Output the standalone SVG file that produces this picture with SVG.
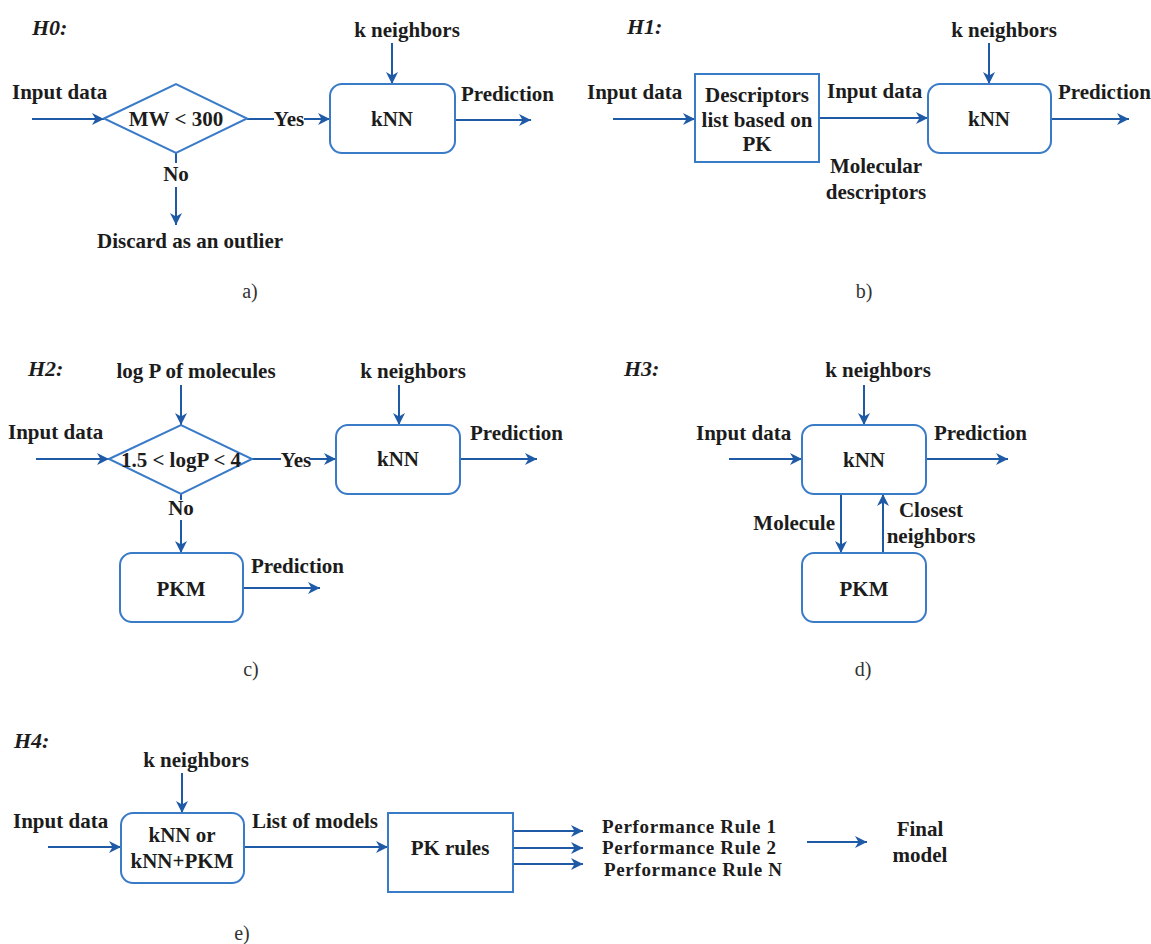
<svg xmlns="http://www.w3.org/2000/svg" width="1151" height="944" viewBox="0 0 1151 944">
<style>
text{font-family:"Liberation Serif","Times New Roman",serif;fill:#1c1c1c}
.t{font-size:21px;font-weight:bold}
.pr{font-size:19px;font-weight:bold}
.m{text-anchor:middle}
.h{font-size:22px;font-weight:bold;font-style:italic}
.cap{font-size:20px;text-anchor:middle;fill:#333}
.box{fill:#fff;stroke:#3a7bc8;stroke-width:2}
.ln{fill:none;stroke:#1f5aa6;stroke-width:2}
.ar{fill:none;stroke:#1f5aa6;stroke-width:2;marker-end:url(#ah)}
</style>
<defs>
<marker id="ah" markerUnits="userSpaceOnUse" markerWidth="13" markerHeight="12" refX="12" refY="6" orient="auto">
<path d="M0,0 L12,6 L0,12 L3.5,6 z" fill="#1f5aa6"/>
</marker>
</defs>
<rect width="1151" height="944" fill="#fff"/>

<g id="connectors">
<!-- H0 -->
<line class="ar" x1="392" y1="43" x2="392" y2="84"/>
<line class="ar" x1="32" y1="119" x2="104" y2="119"/>
<line class="ln" x1="247" y1="119" x2="274" y2="119"/>
<line class="ar" x1="304" y1="119" x2="330" y2="119"/>
<line class="ar" x1="455" y1="120" x2="531" y2="120"/>
<line class="ln" x1="176" y1="153" x2="176" y2="163"/>
<line class="ar" x1="176" y1="187" x2="176" y2="225"/>
<!-- H1 -->
<line class="ar" x1="613" y1="119" x2="695" y2="119"/>
<line class="ar" x1="819" y1="118" x2="928" y2="118"/>
<line class="ar" x1="989" y1="43" x2="989" y2="84"/>
<line class="ar" x1="1051" y1="119" x2="1129" y2="119"/>
<!-- H2 -->
<line class="ar" x1="181" y1="385" x2="181" y2="425"/>
<line class="ar" x1="36" y1="459" x2="109" y2="459"/>
<line class="ln" x1="252" y1="459" x2="281" y2="459"/>
<line class="ar" x1="310" y1="459" x2="336" y2="459"/>
<line class="ar" x1="399" y1="385" x2="399" y2="425"/>
<line class="ar" x1="460" y1="459" x2="537" y2="459"/>
<line class="ln" x1="181" y1="494" x2="181" y2="500"/>
<line class="ar" x1="181" y1="520" x2="181" y2="553"/>
<line class="ar" x1="243" y1="588" x2="320" y2="588"/>
<!-- H3 -->
<line class="ar" x1="864" y1="385" x2="864" y2="425"/>
<line class="ar" x1="729" y1="459" x2="802" y2="459"/>
<line class="ar" x1="926" y1="459" x2="1008" y2="459"/>
<line class="ar" x1="841" y1="494" x2="841" y2="553"/>
<line class="ar" x1="883" y1="553" x2="883" y2="494"/>
<!-- H4 -->
<line class="ar" x1="182" y1="773" x2="182" y2="813"/>
<line class="ar" x1="48" y1="847" x2="121" y2="847"/>
<line class="ar" x1="244" y1="847" x2="388" y2="847"/>
<line class="ar" x1="513" y1="831" x2="583" y2="831"/>
<line class="ar" x1="513" y1="848" x2="583" y2="848"/>
<line class="ar" x1="513" y1="864" x2="583" y2="864"/>
<line class="ar" x1="807" y1="842" x2="867" y2="842"/>
</g>

<!-- Panel H0 -->
<g id="h0-title"><text class="h" x="32" y="35">H0:</text></g>
<g id="h0-decision">
<polygon class="box" points="104,118.5 176,84 247,118.5 176,153"/>
<text class="t m" x="176" y="126">MW &lt; 300</text>
</g>
<g id="h0-knn">
<rect class="box" x="330" y="84" width="125" height="69" rx="12"/>
<text class="t m" x="392" y="126">kNN</text>
</g>
<g id="h0-labels">
<text class="t m" x="407" y="37">k neighbors</text>
<text class="t" x="12" y="99">Input data</text>
<text class="t m" x="289" y="126">Yes</text>
<text class="t" x="461" y="101">Prediction</text>
<text class="t m" x="176" y="181">No</text>
<text class="t" x="97" y="248">Discard as an outlier</text>
<text class="cap" x="250" y="298">a)</text>
</g>

<!-- Panel H1 -->
<g id="h1-title"><text class="h" x="627" y="34">H1:</text></g>
<g id="h1-descriptors">
<rect class="box" x="695" y="74" width="124" height="88"/>
<text class="t m" x="757" y="102">Descriptors</text>
<text class="t m" x="757" y="127">list based on</text>
<text class="t m" x="757" y="151">PK</text>
</g>
<g id="h1-knn">
<rect class="box" x="928" y="84" width="123" height="69" rx="12"/>
<text class="t m" x="989" y="126">kNN</text>
</g>
<g id="h1-labels">
<text class="t" x="587" y="99">Input data</text>
<text class="t" x="827" y="98">Input data</text>
<text class="t m" x="1004" y="37">k neighbors</text>
<text class="t" x="1058" y="99">Prediction</text>
<text class="t m" x="876" y="173">Molecular</text>
<text class="t m" x="876" y="199">descriptors</text>
<text class="cap" x="864" y="298">b)</text>
</g>

<!-- Panel H2 -->
<g id="h2-title"><text class="h" x="28" y="376">H2:</text></g>
<g id="h2-decision">
<polygon class="box" points="109,459 181,425 252,459 181,494"/>
<text class="t m" x="181" y="467">1.5 &lt; logP &lt; 4</text>
</g>
<g id="h2-knn">
<rect class="box" x="336" y="425" width="124" height="69" rx="12"/>
<text class="t m" x="398" y="466">kNN</text>
</g>
<g id="h2-pkm">
<rect class="box" x="120" y="553" width="123" height="69" rx="12"/>
<text class="t m" x="181" y="596">PKM</text>
</g>
<g id="h2-labels">
<text class="t m" x="196" y="378">log P of molecules</text>
<text class="t m" x="413" y="378">k neighbors</text>
<text class="t" x="8" y="439">Input data</text>
<text class="t m" x="296" y="467">Yes</text>
<text class="t" x="470" y="440">Prediction</text>
<text class="t m" x="181" y="515">No</text>
<text class="t" x="251" y="573">Prediction</text>
<text class="cap" x="251" y="676">c)</text>
</g>

<!-- Panel H3 -->
<g id="h3-title"><text class="h" x="624" y="376">H3:</text></g>
<g id="h3-knn">
<rect class="box" x="802" y="425" width="124" height="69" rx="12"/>
<text class="t m" x="864" y="467">kNN</text>
</g>
<g id="h3-pkm">
<rect class="box" x="802" y="553" width="124" height="69" rx="12"/>
<text class="t m" x="864" y="596">PKM</text>
</g>
<g id="h3-labels">
<text class="t m" x="878" y="377">k neighbors</text>
<text class="t" x="696" y="440">Input data</text>
<text class="t" x="934" y="440">Prediction</text>
<text class="t" x="835" y="530" text-anchor="end">Molecule</text>
<text class="t m" x="931" y="517">Closest</text>
<text class="t m" x="931" y="543">neighbors</text>
<text class="cap" x="863" y="676">d)</text>
</g>

<!-- Panel H4 -->
<g id="h4-title"><text class="h" x="14" y="748">H4:</text></g>
<g id="h4-knn">
<rect class="box" x="121" y="813" width="123" height="70" rx="12"/>
<text class="t m" x="182" y="842">kNN or</text>
<text class="t m" x="182" y="868">kNN+PKM</text>
</g>
<g id="h4-pkrules">
<rect class="box" x="388" y="813" width="125" height="79"/>
<text class="t m" x="450" y="855">PK rules</text>
</g>
<g id="h4-labels">
<text class="t m" x="196" y="767">k neighbors</text>
<text class="t" x="13" y="828">Input data</text>
<text class="t" x="252" y="828">List of models</text>
<text class="pr" x="602" y="833" textLength="174">Performance Rule 1</text>
<text class="pr" x="602" y="854" textLength="174">Performance Rule 2</text>
<text class="pr" x="604" y="876" textLength="178">Performance Rule N</text>
<text class="t m" x="920" y="836">Final</text>
<text class="t m" x="920" y="862">model</text>
<text class="cap" x="242" y="940">e)</text>
</g>
</svg>
